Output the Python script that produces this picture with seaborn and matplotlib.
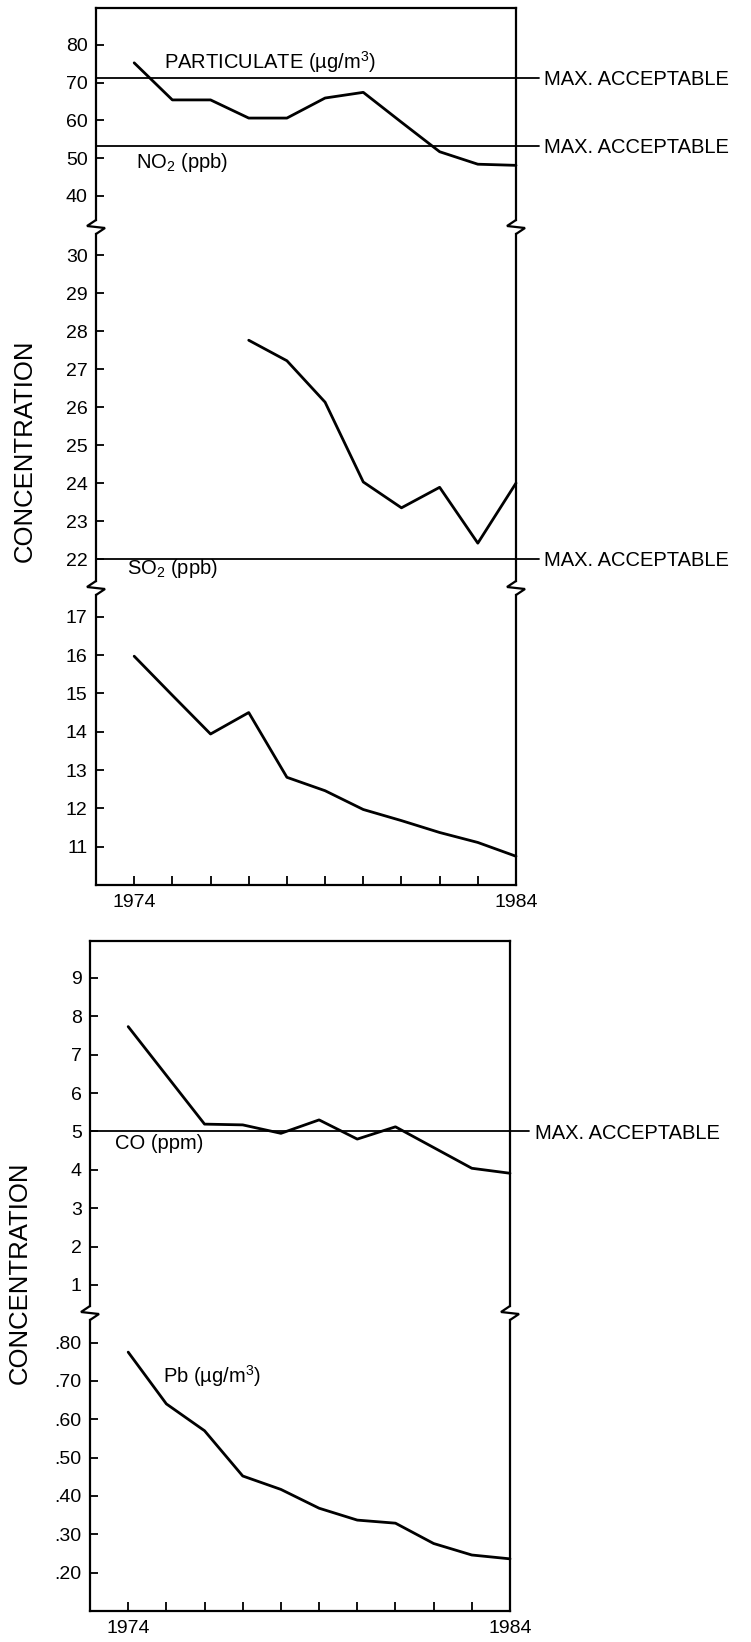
import matplotlib
matplotlib.use("Agg")
import matplotlib.pyplot as plt
from matplotlib.lines import Line2D
import seaborn as sns
import numpy as np
import pandas as pd

# ---------------- data ----------------
years_all = [1974, 1975, 1976, 1977, 1978, 1979, 1980, 1981, 1982, 1983, 1984]
particulate = [75.2, 65.4, 65.4, 60.6, 60.6, 65.9, 67.4, 59.5, 51.7, 48.4, 48.1]
no2_years = [1977, 1978, 1979, 1980, 1981, 1982, 1983, 1984]
no2 = [27.76, 27.22, 26.13, 24.03, 23.35, 23.89, 22.42, 24.0]
so2 = [15.97, 14.95, 13.94, 14.5, 12.81, 12.46, 11.97, 11.68, 11.37, 11.11, 10.75]
co = [7.73, 6.46, 5.19, 5.17, 4.95, 5.30, 4.80, 5.12, 4.58, 4.04, 3.91]
pb = [0.775, 0.640, 0.570, 0.452, 0.417, 0.368, 0.337, 0.329, 0.276, 0.246, 0.236]

max_part = 71.2
max_no2 = 53.3
max_so2 = 22.0
max_co = 5.0

ticks_p1 = [40, 50, 60, 70, 80]
ticks_p2 = [22, 23, 24, 25, 26, 27, 28, 29, 30]
ticks_p3 = [11, 12, 13, 14, 15, 16, 17]
ticks_co = [1, 2, 3, 4, 5, 6, 7, 8, 9]
ticks_pb = [0.20, 0.30, 0.40, 0.50, 0.60, 0.70, 0.80]
pb_labels = [".20", ".30", ".40", ".50", ".60", ".70", ".80"]
x_labels = {1974: "1974", 1984: "1984"}

# ---------------- style ----------------
sns.set_style("ticks")
plt.rcParams['font.family'] = ['Liberation Sans', 'DejaVu Sans']
plt.rcParams['mathtext.fontset'] = 'custom'
plt.rcParams['mathtext.rm'] = 'Liberation Sans'
plt.rcParams['mathtext.it'] = 'Liberation Sans:italic'
plt.rcParams['mathtext.bf'] = 'Liberation Sans:bold'
plt.rcParams['text.color'] = 'black'
plt.rcParams['axes.labelcolor'] = 'black'
plt.rcParams['xtick.color'] = 'black'
plt.rcParams['ytick.color'] = 'black'
plt.rcParams['xtick.labelcolor'] = 'black'
plt.rcParams['ytick.labelcolor'] = 'black'

W, H = 751, 1642
fig = plt.figure(figsize=(W / 100, H / 100), dpi=100)
fig.patch.set_facecolor('white')

LW_SPINE = 1.6
LW_DATA = 2.0
LW_MAX = 1.3
TICK_FS = 14
LAB_FS = 14.5


def rect(l, t, r, b):
    return [l / W, 1 - b / H, (r - l) / W, (b - t) / H]


def make_ax(l, t, r, b, ylim, yticks, ylabels=None, top=False, bottom=False):
    ax = fig.add_axes(rect(l, t, r, b))
    ax.set_facecolor('none')
    ax.set_xlim(1973, 1984)
    ax.set_ylim(*ylim)
    ax.set_yticks(yticks)
    if ylabels is not None:
        ax.set_yticklabels(ylabels)
    else:
        ax.set_yticklabels([str(v) for v in yticks])
    ax.tick_params(axis='y', direction='in', length=6, width=1.3, pad=6,
                   labelsize=TICK_FS, right=False, colors='black')
    if bottom:
        ax.set_xticks(years_all)
        ax.set_xticklabels([x_labels.get(y, "") for y in years_all])
        ax.tick_params(axis='x', direction='in', length=6.5, width=1.3, pad=6.5,
                       labelsize=TICK_FS, top=False, colors='black')
    else:
        ax.set_xticks([])
    px_per_unit = (b - t) / (ylim[1] - ylim[0])
    gap = 7 / px_per_unit
    lo = ylim[0] if bottom else ylim[0] + gap
    hi = ylim[1] if top else ylim[1] - gap
    for s in ['left', 'right']:
        ax.spines[s].set_visible(True)
        ax.spines[s].set_linewidth(LW_SPINE)
        ax.spines[s].set_color('black')
        ax.spines[s].set_bounds(lo, hi)
    ax.spines['top'].set_visible(top)
    ax.spines['bottom'].set_visible(bottom)
    for s in ['top', 'bottom']:
        ax.spines[s].set_linewidth(LW_SPINE)
        ax.spines[s].set_color('black')
    ax.set_xlabel("")
    ax.set_ylabel("")
    return ax


def brk(xpx, ypx):
    pts = [(0, -7), (-9, -1), (9, 1), (0, 7)]
    xs = [(xpx + dx) / W for dx, dy in pts]
    ys = [1 - (ypx + dy) / H for dx, dy in pts]
    fig.add_artist(Line2D(xs, ys, transform=fig.transFigure, color='black',
                          lw=LW_SPINE, solid_joinstyle='miter'))


def line(ax, x, y):
    sns.lineplot(x=x, y=y, ax=ax, color='black', lw=LW_DATA, clip_on=False)
    ax.set_xlabel("")
    ax.set_ylabel("")


def maxline(ax, y, xend, xtext):
    ax.plot([1973, xend], [y, y], color='black', lw=LW_MAX, clip_on=False)
    ax.annotate("MAX. ACCEPTABLE", xy=(xtext, y), xycoords='data',
                xytext=(0, -LAB_FS * 0.716 / 2), textcoords='offset points',
                va='baseline', ha='left', fontsize=LAB_FS, color='black',
                annotation_clip=False)


# ---------------- top group ----------------
L1, R1 = 96, 516
ax1 = make_ax(L1, 8, R1, 227, (31.8, 89.7), ticks_p1, top=True)
ax2 = make_ax(L1, 227, R1, 588, (21.24, 30.74), ticks_p2)
ax3 = make_ax(L1, 588, R1, 885, (10.0, 17.75), ticks_p3, bottom=True)

line(ax1, years_all, particulate)
line(ax2, no2_years, no2)
line(ax3, years_all, so2)

maxline(ax1, max_part, 1984.6, 1984.73)
maxline(ax1, max_no2, 1984.6, 1984.73)
maxline(ax2, max_so2, 1984.6, 1984.73)

ax1.text(1974.77, 73.6, "PARTICULATE (µg/m$^3$)", fontsize=LAB_FS, va='baseline', color='black')
ax1.text(1974.05, 47.35, "NO$_2$ (ppb)", fontsize=LAB_FS, va='baseline', color='black')
ax2.text(1973.8, 21.62, "SO$_2$ (ppb)", fontsize=LAB_FS, va='baseline', color='black')

for ypx in (227, 588):
    brk(L1, ypx)
    brk(R1, ypx)

fig.text(25 / W, 1 - 451 / H, "CONCENTRATION", rotation=90, fontsize=18.5,
         ha='center', va='center', color='black')

# ---------------- bottom group ----------------
L2, R2 = 90, 510
ax4 = make_ax(L2, 941, R2, 1313, (0.27, 9.96), ticks_co, top=True)
ax5 = make_ax(L2, 1313, R2, 1611, (0.10, 0.877), ticks_pb, ylabels=pb_labels, bottom=True)

line(ax4, years_all, co)
line(ax5, years_all, pb)

maxline(ax4, max_co, 1984.5, 1984.65)

ax4.text(1973.66, 4.54, "CO (ppm)", fontsize=LAB_FS, va='baseline', color='black')
ax5.text(1974.9, 0.694, "Pb (µg/m$^3$)", fontsize=LAB_FS, va='baseline', color='black')

brk(L2, 1313)
brk(R2, 1313)

fig.text(20 / W, 1 - 1273 / H, "CONCENTRATION", rotation=90, fontsize=18.5,
         ha='center', va='center', color='black')

fig.savefig("out.png", dpi=100, facecolor='white')
